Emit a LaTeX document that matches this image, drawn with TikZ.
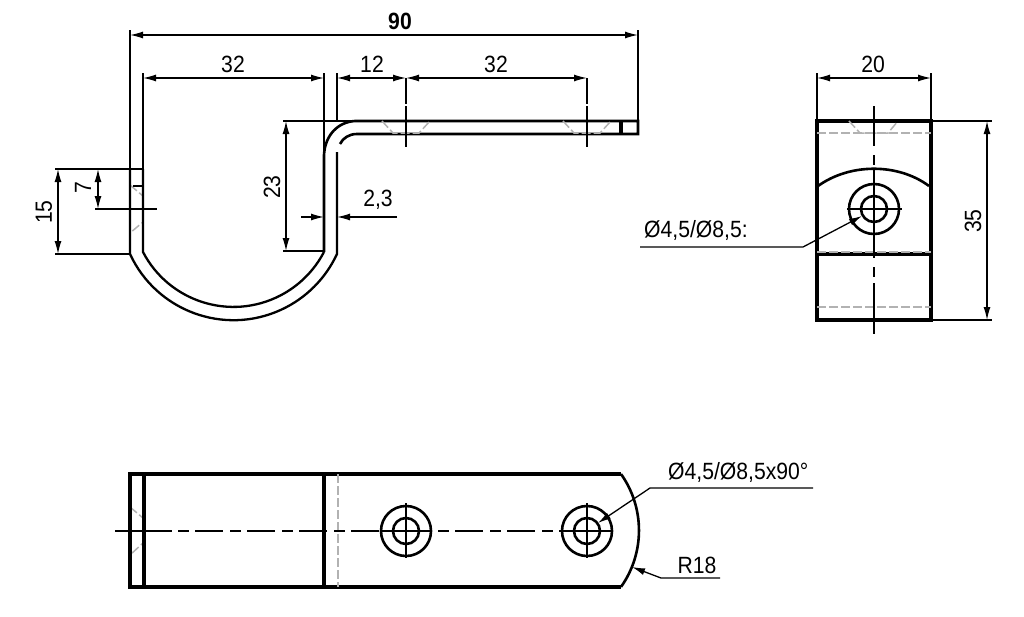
\documentclass[tikz,border=0pt]{standalone}
\usepackage{fontspec}
\setmainfont[FakeStretch=0.9]{Liberation Sans}
\usetikzlibrary{arrows.meta}
\tikzset{
  outline/.style={line width=3.2pt},
  holeline/.style={line width=2.6pt},
  curved/.style={line width=2.3pt},
  thinline/.style={line width=1.3pt},
  dimline/.style={line width=1.3pt,{Latex[length=13pt,width=7pt]}-{Latex[length=13pt,width=7pt]}},
  leader/.style={line width=1.3pt,-{Latex[length=13pt,width=7pt]}},
  ghost/.style={line width=1.5pt,color=black!30,dash pattern=on 9pt off 3pt},
  centerline/.style={line width=1.3pt,dash pattern=on 11pt off 6pt on 28pt off 7pt},
  dimtext/.style={font=\fontsize{23.5}{24}\selectfont,inner sep=0pt}
}
\begin{document}
\begin{tikzpicture}[x=1pt,y=-1pt]
\useasboundingbox (0,0) rectangle (1024,616);
%SIDE VIEW
  \draw[ghost] (130,185) -- (143,196) -- (143,222) -- (130,233);
  \draw[curved] (130,169) -- (130,254) arc (155.2:24.8:114) -- (337,152);
  \draw[curved] (143,169) -- (143,252) arc (152.5:27.5:102) -- (324,252);
  \draw[holeline] (130,169) -- (143,169) -- (143,252);
  \draw[line width=1.6pt] (133,186) -- (143,186);
  \draw[holeline] (324,252) -- (324,155) .. controls (325,135) and (338,122) .. (355,121) -- (638,121) -- (638,134) -- (357,134) .. controls (349,134) and (343,138) .. (340,144);
  \draw[outline] (621,121) -- (621,134);
  \draw[ghost] (382,121) -- (393,133) -- (419,133) -- (430,121);
  \draw[ghost] (563,121) -- (574,133) -- (600,133) -- (611,121);
%extension lines
  \draw[thinline] (130,30) -- (130,169);
  \draw[thinline] (143,73) -- (143,169);
  \draw[thinline] (324,73) -- (324,155);
  \draw[thinline] (337,73) -- (337,121);
  \draw[thinline] (638,30) -- (638,121);
  \draw[thinline] (406,78) -- (406,104);
  \draw[thinline] (406,106) -- (406,147);
  \draw[thinline] (587,78) -- (587,104);
  \draw[thinline] (587,106) -- (587,147);
  \draw[thinline] (55,169) -- (130,169);
  \draw[thinline] (55,254) -- (130,254);
  \draw[thinline] (95,209) -- (157,209);
  \draw[thinline] (283,121) -- (355,121);
  \draw[thinline] (283,251) -- (324,251);
%dimensions
  \draw[dimline] (130,35) -- (638,35);
  \draw[dimline] (143,78) -- (324,78);
  \draw[dimline] (337,78) -- (406,78);
  \draw[dimline] (406,78) -- (587,78);
  \draw[dimline] (58,169) -- (58,254);
  \draw[dimline] (98,169) -- (98,209);
  \draw[dimline] (286,121) -- (286,251);
  \draw[leader] (301,217) -- (324,217);
  \draw[leader] (397,217) -- (337,217);
  \node (dimTotal) at (400,21) [dimtext,font=\fontsize{23.5}{24}\selectfont\bfseries] {90};
  \node (dimBow) at (233,64) [dimtext] {32};
  \node (dimBend) at (372,64) [dimtext] {12};
  \node (dimPitch) at (496,64) [dimtext] {32};
  \node (dimEnd) at (44,212) [dimtext,rotate=90] {15};
  \node (dimHole) at (83,188) [dimtext,rotate=90] {7};
  \node (dimArm) at (272,187) [dimtext,rotate=90] {23};
  \node (dimThick) at (378,200) [dimtext] {2,3};
%END VIEW
  \draw[outline] (817,121) rectangle (931,320);
  \draw[outline] (817,254) -- (931,254);
  \draw[holeline] (818,186) .. controls (850,163) and (898,163) .. (929,186);
  \draw[holeline] (874,209) circle (25);
  \draw[holeline] (874,209) circle (13);
  \draw[ghost] (817,133) -- (931,133);
  \draw[ghost] (817,252) -- (931,252);
  \draw[ghost] (817,307) -- (931,307);
  \draw[ghost] (849,121) -- (860,133) -- (888,133) -- (898,121);
  \draw[thinline] (847,209) -- (902,209);
  \draw[thinline] (874,106) -- (874,146);
  \draw[thinline] (874,155) -- (874,165);
  \draw[thinline] (874,169) -- (874,258);
  \draw[thinline] (874,267) -- (874,277);
  \draw[thinline] (874,283) -- (874,334);
  \draw[thinline] (817,73) -- (817,121);
  \draw[thinline] (931,73) -- (931,121);
  \draw[thinline] (931,121) -- (992,121);
  \draw[thinline] (931,320) -- (992,320);
  \draw[dimline] (817,78) -- (931,78);
  \draw[dimline] (987,121) -- (987,320);
  \draw[leader] (640,247) -- (803,247) -- (862,216);
  \node (dimWidth) at (873,64) [dimtext] {20};
  \node (dimHeight) at (973,221) [dimtext,rotate=90] {35};
  \node (holeEnd) at (644,230) [dimtext,anchor=west] {Ø4,5/Ø8,5:};
%TOP VIEW
  \draw[ghost] (130,507) -- (143,518) -- (143,543) -- (130,555);
  \draw[outline] (621,474) -- (130,474) -- (130,587) -- (621,587);
  \draw[holeline] (621,474) arc (-35.3:35.3:97.7);
  \draw[outline] (144,474) -- (144,587);
  \draw[outline] (324,474) -- (324,587);
  \draw[ghost] (338,474) -- (338,587);
  \draw[thinline] (115,531) -- (172,531);
  \draw[centerline] (178,531) -- (381,531);
  \draw[centerline] (438,531) -- (561,531);
  \draw[thinline] (381,531) -- (431,531);
  \draw[thinline] (561,531) -- (613,531);
  \draw[holeline] (406,531) circle (25);
  \draw[holeline] (406,531) circle (13);
  \draw[holeline] (587,531) circle (25);
  \draw[holeline] (587,531) circle (13);
  \draw[thinline] (406,503) -- (406,558);
  \draw[thinline] (587,503) -- (587,558);
  \draw[leader] (813,488) -- (650,488) -- (598,523);
  \draw[leader] (720,578) -- (661,578) -- (632,567);
  \node (holeTop) at (668,472) [dimtext,anchor=west] {Ø4,5/Ø8,5x90°};
  \node (radius) at (697,565) [dimtext] {R18};
\end{tikzpicture}
\end{document}
